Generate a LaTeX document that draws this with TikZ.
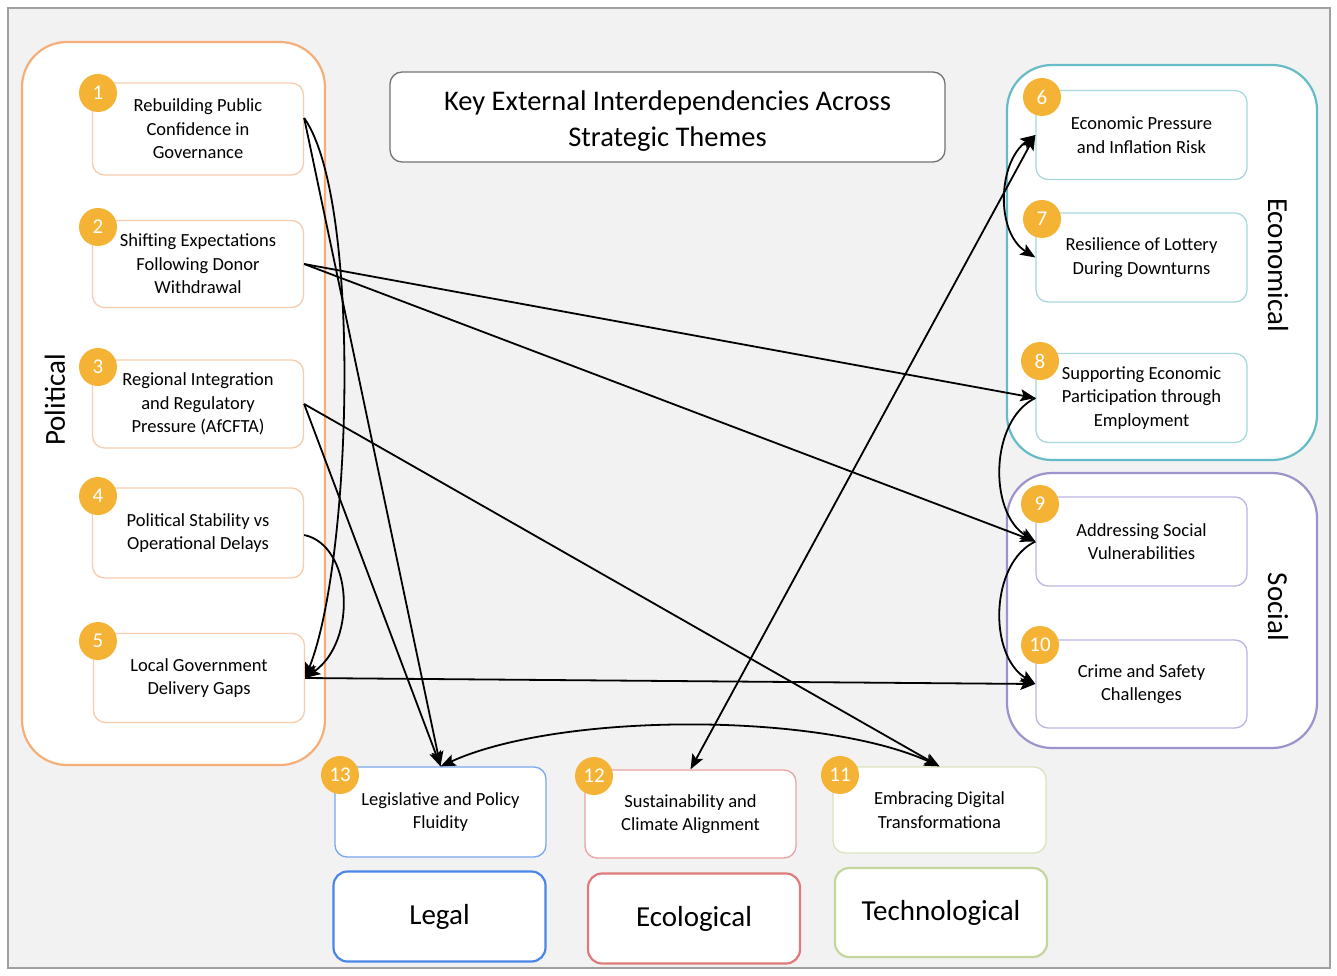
\documentclass[tikz,border=0pt]{standalone}
\usepackage{fontspec}
\setmainfont{Carlito}
\usetikzlibrary{arrows.meta}
\definecolor{bg}{HTML}{F2F2F2}
\definecolor{frameC}{HTML}{A0A0A0}
\definecolor{gold}{HTML}{F5B335}
\definecolor{polO}{HTML}{F5AE78}
\definecolor{polI}{HTML}{F8CDAE}
\definecolor{ecoO}{HTML}{66BCC6}
\definecolor{ecoI}{HTML}{A8D8DE}
\definecolor{socO}{HTML}{9C92CC}
\definecolor{socI}{HTML}{BDB5E2}
\definecolor{legO}{HTML}{4A86E8}
\definecolor{legI}{HTML}{79A7EC}
\definecolor{ecolO}{HTML}{E07B7B}
\definecolor{ecolI}{HTML}{E8A3A3}
\definecolor{tecO}{HTML}{C3D69B}
\definecolor{tecI}{HTML}{D8E4BD}
\begin{document}
\begin{tikzpicture}[x=1pt,y=-1pt,
  item/.style={draw, rounded corners=12pt, fill=white, minimum width=211pt, minimum height=89pt,
    align=center, inner sep=2pt, line width=1.3pt, font=\fontsize{18.5}{23.5}\selectfont},
  badge/.style={circle, fill=gold, text=white, minimum size=38pt, inner sep=0pt,
    font=\fontsize{21}{21}\selectfont},
  grp/.style={draw, rounded corners=45pt, fill=white, line width=2.2pt},
  catlabel/.style={font=\fontsize{29}{34}\selectfont, inner sep=0pt},
  catbox/.style={draw, rounded corners=14pt, fill=white, line width=2.2pt, minimum width=212pt,
    minimum height=90pt, font=\fontsize{29}{34}\selectfont},
  tip/.tip={Stealth[length=15pt,width=12pt,inset=3pt]},
  link/.style={line width=1.8pt, -tip},
  dlink/.style={line width=1.8pt, tip-tip}
]
\useasboundingbox (0,0) rectangle (1337,976);
\fill[white] (0,0) rectangle (1337,976);
\node[draw=frameC, fill=bg, line width=1.8pt, minimum width=1322pt, minimum height=960pt, inner sep=0pt] (frame) at (669,488) {};

% containers
\node[grp, draw=polO, minimum width=303pt, minimum height=723pt] (polbox) at (173.5,403.5) {};
\node[grp, draw=ecoO, minimum width=310pt, minimum height=395pt] (ecobox) at (1162,262.5) {};
\node[grp, draw=socO, minimum width=310pt, minimum height=275pt] (socbox) at (1162,610.5) {};

\node[catlabel, rotate=90] (poltxt) at (55,400) {Political};
\node[catlabel, rotate=-90] (ecotxt) at (1278,265) {Economical};
\node[catlabel, rotate=-90] (soctxt) at (1278,607) {Social};

% title
\node[draw=black!55, fill=white, rounded corners=12pt, line width=1.3pt, minimum width=555pt, minimum height=90pt] (title) at (667.5,117) {};
\node[align=center, font=\fontsize{28.5}{36}\selectfont, inner sep=0pt] (titletxt) at (667.5,121) {Key External Interdependencies Across\\Strategic Themes};

% political items
\node[item, draw=polI, minimum height=92pt] (p1) at (198,129) {Rebuilding Public\\Confidence in\\Governance};
\node[item, draw=polI, minimum height=87pt] (p2) at (198,264) {Shifting Expectations\\Following Donor\\Withdrawal};
\node[item, draw=polI, minimum height=88pt] (p3) at (198,404) {Regional Integration\\and Regulatory\\Pressure (AfCFTA)};
\node[item, draw=polI, minimum height=90pt] (p4) at (198,533) {Political Stability vs\\Operational Delays};
\node[item, draw=polI, minimum height=89pt] (p5) at (199,678) {Local Government\\Delivery Gaps};

% economical items
\node[item, draw=ecoI] (e6) at (1141.5,135) {Economic Pressure\\and Inflation Risk};
\node[item, draw=ecoI] (e7) at (1141.5,257.5) {Resilience of Lottery\\During Downturns};
\node[item, draw=ecoI] (e8) at (1141.5,398) {Supporting Economic\\Participation through\\Employment};

% social items
\node[item, draw=socI] (s9) at (1141.5,541.5) {Addressing Social\\Vulnerabilities};
\node[item, draw=socI, minimum height=88pt] (s10) at (1141.5,684) {Crime and Safety\\Challenges};

% bottom items
\node[item, draw=legI, minimum height=90pt] (l13) at (440.5,812) {Legislative and Policy\\Fluidity};
\node[item, draw=ecolI, minimum height=88pt] (c12) at (690.5,814) {Sustainability and\\Climate Alignment};
\node[item, draw=tecI, minimum width=213pt, minimum height=86pt] (t11) at (939.5,810) {Embracing Digital\\Transformationa};

\node[catbox, draw=legO] (legal) at (439.5,916.5) {Legal};
\node[catbox, draw=ecolO] (ecol) at (694,918.5) {Ecological};
\node[catbox, draw=tecO, minimum height=89pt] (tech) at (941,912.5) {Technological};

% connectors
\draw[link] ([yshift=11pt]p1.east) -- (l13.north);
\draw[link] ([yshift=11pt]p1.east) .. controls (362,200) and (352,560) .. (p5.east);
\draw[link] (p2.east) -- (e8.west);
\draw[link] (p2.east) -- (s9.west);
\draw[link] (p3.east) -- (l13.north);
\draw[link] (p3.east) -- (t11.north);
\draw[link] ([yshift=-2pt]p4.east) .. controls (352,545) and (358,640) .. (p5.east);
\draw[link] (p5.east) -- (s10.west);
\draw[dlink] (c12.north) -- (e6.west);
\draw[dlink] (e7.west) .. controls (995,232) and (998,162) .. (e6.west);
\draw[link] (e8.west) .. controls (990,420) and (988,512) .. (s9.west);
\draw[link] (s9.west) .. controls (990,563) and (988,655) .. (s10.west);
\draw[dlink] (l13.north) .. controls (560,712) and (820,712) .. (t11.north);

% badges
\node[badge] (b1) at (98,93) {1};
\node[badge] (b2) at (98,227) {2};
\node[badge] (b3) at (98,367) {3};
\node[badge] (b4) at (98,496) {4};
\node[badge] (b5) at (98,641) {5};
\node[badge] (b6) at (1042,97) {6};
\node[badge] (b7) at (1042,219) {7};
\node[badge] (b8) at (1040,361) {8};
\node[badge] (b9) at (1040,504) {9};
\node[badge] (b10) at (1040,645) {10};
\node[badge] (b13) at (340,775) {13};
\node[badge] (b12) at (594,776) {12};
\node[badge] (b11) at (840,775) {11};
\end{tikzpicture}
\end{document}
